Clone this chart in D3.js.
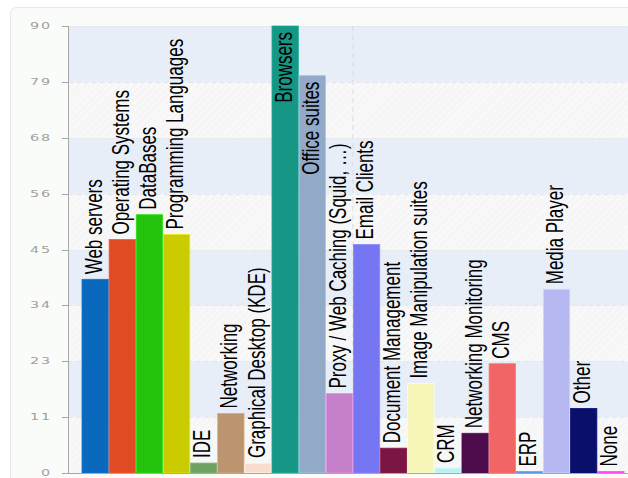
<!DOCTYPE html>
<html><head><meta charset="utf-8">
<script src="https://cdn.jsdelivr.net/npm/d3@7"></script>
<style>html,body{margin:0;padding:0;background:#fff;overflow:hidden}</style>
</head><body>
<svg id="c" width="628" height="478"></svg>
<script>
const categories = ["Web servers","Operating Systems","DataBases","Programming Languages","IDE","Networking","Graphical Desktop (KDE)","Browsers","Office suites","Proxy / Web Caching (Squid, …)","Email Clients","Document Management","Image Manipulation suites","CRM","Networking Monitoring","CMS","ERP","Media Player","Other","None"];
const values = [39,47,52,48,2,12,2,90,80,16,46,5,18,1,8,22,0.3,37,13,0.3];
const colors = ["#0a68bd","#e14b23","#24c40e","#cbcb02","#6fa262","#bc9570","#f9dccd","#169786","#93a9c8","#c67fc9","#7676f2","#7b1643","#f6f6b8","#b6f2f0","#4c0c4b","#f26565","#5a8de0","#b5b8f1","#0a0f6b","#ff44ee"];
const tickValues = [0,11.25,22.5,33.75,45,56.25,67.5,78.75,90];
const tickLabels = ["0","11","23","34","45","56","68","79","90"];

const svg = d3.select("#c");
const defs = svg.append("defs");
const pat = defs.append("pattern").attr("id","hatch").attr("patternUnits","userSpaceOnUse").attr("width",5).attr("height",5).attr("patternTransform","rotate(45)");
pat.append("rect").attr("width",5).attr("height",5).attr("fill","#f8f8f8");
pat.append("line").attr("x1",0).attr("y1",0).attr("x2",0).attr("y2",5).attr("stroke","#f2f2f2").attr("stroke-width",1.5);

// panel
svg.append("rect").attr("x",10.5).attr("y",7.5).attr("width",640).attr("height",490).attr("rx",6)
  .attr("fill","#fafcfa").attr("stroke","#e6e8e6");

const plotL = 68, plotR = 640, plotT = 26, plotB = 473;
const y = d3.scaleLinear().domain([0,90]).range([plotB, plotT]);
const x = d3.scaleBand().domain(categories).range([82, 82 + 20*27.1]).paddingInner(0.03);

// bands
const bands = d3.range(8);
svg.append("g").selectAll("rect").data(bands).join("rect")
  .attr("x", plotL).attr("width", plotR - plotL)
  .attr("y", k => y(tickValues[k+1])).attr("height", k => y(tickValues[k]) - y(tickValues[k+1]))
  .attr("fill", k => k % 2 === 1 ? "#e8eef8" : "url(#hatch)");

// grid lines
svg.append("g").selectAll("line").data(tickValues.slice(1)).join("line")
  .attr("x1", plotL).attr("x2", plotR).attr("y1", d => Math.round(y(d))+0.5).attr("y2", d => Math.round(y(d))+0.5)
  .attr("stroke","#e4e6ea").attr("stroke-dasharray","5,3");
svg.append("line").attr("x1", x(categories[10])-0.5).attr("x2", x(categories[10])-0.5).attr("y1", plotT).attr("y2", plotB)
  .attr("stroke","#dcdcdc").attr("stroke-dasharray","5,4");

// bars
svg.append("g").selectAll("rect").data(categories).join("rect")
  .attr("x", d => x(d)).attr("width", x.bandwidth())
  .attr("y", (d,i) => y(values[i])).attr("height", (d,i) => Math.max(1.5, plotB - y(values[i])))
  .attr("fill", (d,i) => colors[i])
  .attr("stroke", (d,i) => d3.color(colors[i]).brighter(0.4)).attr("stroke-width", 0.8);

// labels
const lab = svg.append("g").selectAll("text").data(categories).join("text")
  .attr("font-family","Liberation Sans, Arial, sans-serif").attr("font-size",17).attr("fill","#000")
  .text(d => d);
lab.each(function(d,i){
  const t = d3.select(this);
  const len = this.getComputedTextLength();
  const cx = x(d) + x.bandwidth()/2 + 6.5;
  const ty = y(values[i]);
  if (ty - 5 - len < plotT) {
    t.attr("text-anchor","end").attr("transform", `translate(${cx},${ty + 6}) scale(1.38,1) rotate(-90)`);
  } else {
    t.attr("text-anchor","start").attr("transform", `translate(${cx},${ty - 5}) scale(1.38,1) rotate(-90)`);
  }
});

// axes
svg.append("line").attr("x1",68.5).attr("x2",68.5).attr("y1",plotT).attr("y2",plotB).attr("stroke","#a8a8a8");
svg.append("line").attr("x1",62).attr("x2",plotR).attr("y1",plotB+0.5).attr("y2",plotB+0.5).attr("stroke","#a8a8a8");
svg.append("g").selectAll("line").data(tickValues).join("line")
  .attr("x1",62).attr("x2",68).attr("y1", d => Math.round(y(d))+0.5).attr("y2", d => Math.round(y(d))+0.5).attr("stroke","#a8a8a8");
svg.append("g").selectAll("text").data(tickValues).join("text")
  .attr("font-family","DejaVu Sans, sans-serif").attr("font-size",8).attr("fill","#a0a0a0")
  .attr("text-anchor","end").attr("letter-spacing",1)
  .attr("transform", d => `translate(52,${y(d)+3}) scale(1.8,1)`)
  .text((d,i) => tickLabels[i]);
</script>
</body></html>
